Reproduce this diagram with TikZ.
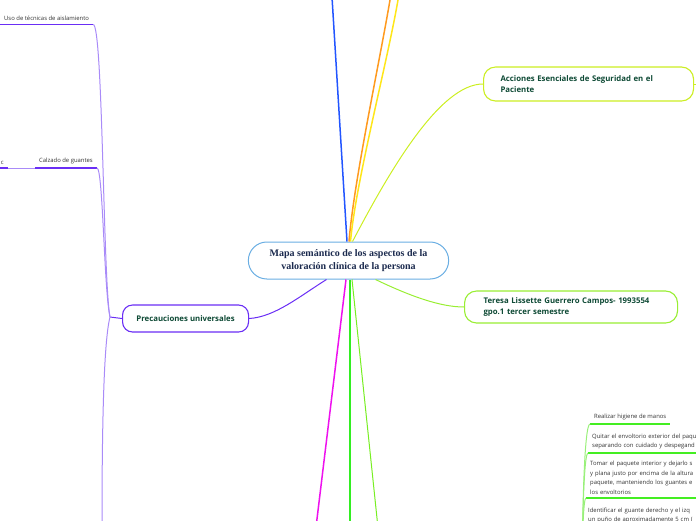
\documentclass[tikz,border=0pt]{standalone}
\usepackage{fontspec}
\setmainfont{Open Sans}
\newfontfamily\titlefont{Liberation Serif}
\usetikzlibrary{positioning, shapes.misc}
\definecolor{titleink}{HTML}{1B2A4E}
\definecolor{ink}{HTML}{0E4A35}
\definecolor{leafink}{HTML}{333333}
\definecolor{rootline}{HTML}{6AAEE3}
\definecolor{bluebr}{HTML}{2255FF}
\definecolor{orangebr}{HTML}{FF9A1E}
\definecolor{yellowbr}{HTML}{FFE619}
\definecolor{limebr}{HTML}{CCEE22}
\definecolor{lightgreen}{HTML}{99EE33}
\definecolor{purplebr}{HTML}{6A2EF5}
\definecolor{lavender}{HTML}{A98BF8}
\definecolor{magentabr}{HTML}{EE11EE}
\definecolor{greenbr}{HTML}{33EE22}
\definecolor{grassbr}{HTML}{77EE22}
\definecolor{leafgreen}{HTML}{44EE22}
\definecolor{palegreen}{HTML}{99F07A}

\begin{document}
\begin{tikzpicture}[x=1pt,y=-1pt,
  branch/.style={draw, line width=1.1pt, rounded corners=12pt, fill=white,
    font=\bfseries\fontsize{7.8}{11}\selectfont, text=ink, align=left},
  leaf/.style={font=\fontsize{5.9}{9.5}\selectfont, text=leafink,
    inner xsep=4pt, inner ysep=3.5pt, align=left},
  link/.style={line width=1.5pt},
  thin link/.style={line width=1pt}]
  \useasboundingbox (0,0) rectangle (696,520);
  \clip (0,0) rectangle (696,520);

  % Central topic
  \node[rounded rectangle, draw=rootline, line width=1pt, fill=white,
        minimum width=207pt, minimum height=37pt, text=titleink,
        font=\titlefont\bfseries\fontsize{10}{13}\selectfont, align=center]
        (root) at (348.5,260.5)
        {Mapa semántico de los aspectos de la\\valoración clínica de la persona};

  % Main branches
  \node[branch, draw=limebr, anchor=west, text width=176pt, inner xsep=17pt,
        minimum height=34pt] (acc) at (483,84)
        {Acciones Esenciales de Seguridad en el\\Paciente};
  \node[branch, draw=lightgreen, anchor=west, text width=175pt, inner xsep=19pt,
        minimum height=32pt] (ter) at (464,307)
        {Teresa Lissette Guerrero Campos- 1993554\\gpo.1 tercer semestre};
  \node[branch, draw=purplebr, rounded corners=10pt, anchor=west, align=center,
        minimum width=126pt, minimum height=27pt] (prec) at (122,318.5)
        {Precauciones universales};

  % Free ends of branches leaving the page
  \coordinate (blueend) at (332,-3);
  \coordinate (orangeend) at (390.5,-3);
  \coordinate (yellowend) at (398.5,-3);
  \coordinate (accend) at (702,84);
  \coordinate (magentaend) at (316.5,523);
  \coordinate (greenend) at (350,523);
  \coordinate (grassend) at (377.5,523);

  % Branches from the central topic
  \draw[link, bluebr] ([xshift=-1.5pt]root.north) -- (blueend);
  \draw[link, orangebr] ([xshift=0.5pt]root.north) .. controls (354,180) and (380,60) .. (orangeend);
  \draw[link, yellowbr] ([xshift=2pt]root.north) .. controls (356,180) and (388,60) .. (yellowend);
  \draw[thin link, limebr] ([xshift=4pt]root.north) .. controls (390,170) and (440,84) .. (acc.west);
  \draw[thin link, limebr] (acc.east) -- (accend);
  \draw[thin link, lightgreen] ([xshift=27pt]root.south) .. controls (410,296) and (440,307) .. (ter.west);
  \draw[thin link, purplebr] ([xshift=-22pt]root.south) .. controls (300,296) and (275,317) .. (prec.east);
  \draw[link, magentabr] ([xshift=-2.5pt]root.south) -- (magentaend);
  \draw[link, greenbr] ([xshift=1.5pt]root.south) -- (greenend);
  \draw[thin link, grassbr] ([xshift=3.5pt]root.south) -- (grassend);

  % Precauciones universales: sub-topics
  \coordinate (pj) at (110,317);
  \coordinate (pdown) at (102,523);
  \node[leaf, anchor=south west] (uso) at (0,24.5) {Uso de técnicas de aislamiento};
  \node[leaf, anchor=south east] (calz) at (97,168) {Calzado de guantes};
  \node[leaf, anchor=south east] (cpart) at (8,168) {c};
  \draw[line width=1.4pt, purplebr] (uso.south west) -- (uso.south east);
  \draw[line width=1.4pt, purplebr] (calz.south west) -- (calz.south east);
  \draw[line width=1.4pt, purplebr] (cpart.south west) -- (cpart.south east);
  \draw[thin link, lavender] (cpart.south east) -- (calz.south west);
  \draw[thin link, purplebr] (prec.west) -- (pj);
  \draw[thin link, lavender] (uso.south east) .. controls (103,24) and (103,280) .. (pj);
  \draw[thin link, lavender] (calz.south east) .. controls (103,168) and (104,290) .. (pj);
  \draw[thin link, lavender] (pj) .. controls (104,340) and (102,420) .. (pdown);

  % Calzado de guantes: steps
  \coordinate (gj) at (582,600);
  \node[leaf, anchor=south west] (hig) at (590,424) {Realizar higiene de manos};
  \node[leaf, anchor=south west, text width=125pt] (qui) at (588,453)
    {Quitar el envoltorio exterior del paqu\\separando con cuidado y despegand};
  \node[leaf, anchor=south west, text width=125pt] (tom) at (586,498)
    {Tomar el paquete interior y dejarlo s\\y plana justo por encima de la altura\\paquete, manteniendo los guantes e\\los envoltorios};
  \node[leaf, anchor=south west, text width=125pt] (ide) at (584,527)
    {Identificar el guante derecho y el izq\\un puño de aproximadamente 5 cm (};
  \foreach \s in {hig, qui, tom, ide}
    \draw[line width=1.2pt, leafgreen] (\s.south west) -- (\s.south east);
  \foreach \s/\y in {hig/424, qui/453, tom/498, ide/527}
    \draw[thin link, palegreen] (gj) .. controls (582,520) and (584,\y) .. (\s.south west);
\end{tikzpicture}
\end{document}
